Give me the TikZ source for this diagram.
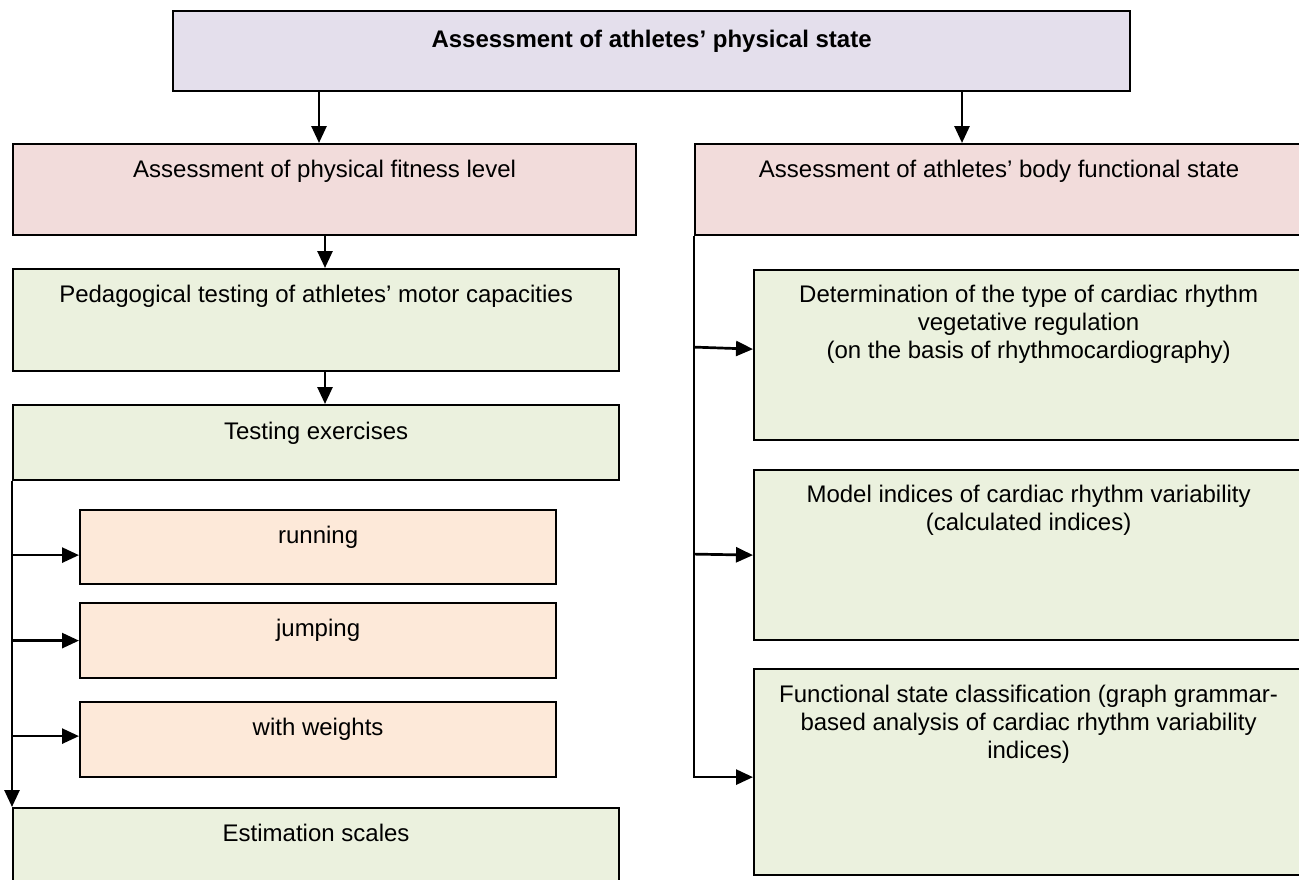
\documentclass[tikz,border=0pt]{standalone}
\usepackage{fontspec}
\setmainfont{Liberation Sans}
\usetikzlibrary{arrows.meta}
\definecolor{cTop}{HTML}{E4DFEC}
\definecolor{cPink}{HTML}{F2DCDB}
\definecolor{cGreen}{HTML}{EBF1DE}
\definecolor{cPeach}{HTML}{FDE9D9}
\newcommand{\bxt}[4][7pt]{\parbox[c][#3][t]{#2}{\vspace*{#1}\centering\strut #4\par}}
\begin{document}
\begin{tikzpicture}[x=0.5pt,y=-0.5pt,
  box/.style={draw=black,line width=1.1pt,inner sep=0pt,anchor=north west,font=\fontsize{12}{14}\selectfont},
  conn/.style={draw=black,line width=1.35pt},
  arr/.style={conn,-{Triangle[length=8.5pt,width=7.5pt]}}]
\useasboundingbox (0,0) rectangle (1299,879);
% boxes
\node[box,fill=cTop]   (top)  at (172,10)  {\bxt[8.5pt]{478.5pt}{40pt}{\bfseries Assessment of athletes’ physical state}};
\node[box,fill=cPink]  (fit)  at (12,143)  {\bxt{311.5pt}{45.5pt}{Assessment of physical fitness level}};
\node[box,fill=cPink]  (body) at (694,143) {\bxt{304pt}{45.5pt}{Assessment of athletes’ body functional state}};
\node[box,fill=cGreen] (ped)  at (12,268)  {\bxt{303pt}{51pt}{Pedagogical testing of athletes’ motor capacities}};
\node[box,fill=cGreen] (test) at (12,404)  {\bxt[7.5pt]{303pt}{37.5pt}{Testing exercises}};
\node[box,fill=cPeach] (run)  at (79,509)  {\bxt{238pt}{37pt}{running}};
\node[box,fill=cPeach] (jump) at (79,602)  {\bxt{238pt}{37.5pt}{jumping}};
\node[box,fill=cPeach] (wts)  at (79,701)  {\bxt{238pt}{37.5pt}{with weights}};
\node[box,fill=cGreen] (est)  at (12,807)  {\bxt{303pt}{40pt}{Estimation scales}};
\node[box,fill=cGreen] (det)  at (753,269) {\bxt[6.5pt]{274.5pt}{85pt}{Determination of the type of cardiac rhythm\\ vegetative regulation\\ (on the basis of rhythmocardiography)}};
\node[box,fill=cGreen] (mod)  at (753,469) {\bxt[6.5pt]{274.5pt}{85pt}{Model indices of cardiac rhythm variability\\ (calculated indices)}};
\node[box,fill=cGreen] (fsc)  at (753,668) {\bxt[7pt]{274.5pt}{103pt}{Functional state classification (graph grammar-\\ based analysis of cardiac rhythm variability\\ indices)}};
% connectors, top level
\coordinate (t1) at ([xshift=73.5pt]top.south west);
\coordinate (t2) at ([xshift=395pt]top.south west);
\draw[arr] (t1) -- (t1 |- fit.north);
\draw[arr] (t2) -- (t2 |- body.north);
\coordinate (f1) at ([xshift=156.5pt]fit.south west);
\draw[arr] (f1) -- (f1 |- ped.north);
\draw[arr] (f1 |- ped.south) -- (f1 |- test.north);
% left trunk
\draw[arr] (test.south west) -- (est.north west);
\coordinate (r1) at ([yshift=-4pt]run.west);
\coordinate (r3) at ([yshift=1.75pt]wts.west);
\draw[arr] (r1 -| test.south west) -- (r1);
\draw[arr] (jump.west -| test.south west) -- (jump.west);
\draw[arr] (r3 -| test.south west) -- (r3);
% right trunk
\coordinate (d1) at ([yshift=4pt]det.west);
\coordinate (d2) at ([yshift=3pt]det.west);
\coordinate (c3) at ([yshift=-2.5pt]fsc.west);
\draw[arr] (body.south west) |- (c3);
\draw[arr] (d1 -| body.south west) -- (d2);
\draw[arr] ([yshift=0.5pt]mod.west -| body.south west) -- (mod.west);
\end{tikzpicture}
\end{document}
